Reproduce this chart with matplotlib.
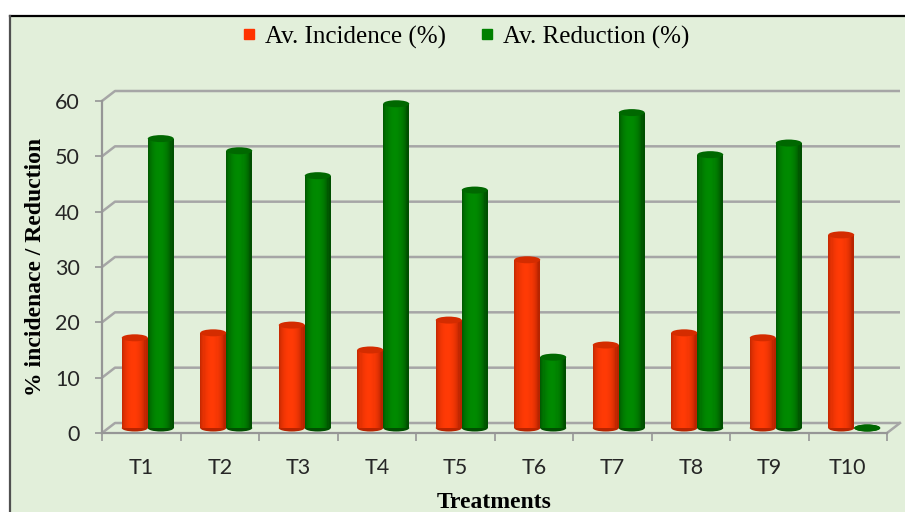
import numpy as np
import matplotlib
matplotlib.use('Agg')
import matplotlib.pyplot as plt
from matplotlib.patches import Ellipse, Rectangle
from matplotlib.lines import Line2D

treatments = ['T1', 'T2', 'T3', 'T4', 'T5', 'T6', 'T7', 'T8', 'T9', 'T10']
incidence = [16.3, 17.2, 18.6, 14.1, 19.5, 30.4, 15.0, 17.2, 16.3, 34.9]
reduction = [52.3, 50.1, 45.6, 58.6, 43.0, 12.8, 57.0, 49.4, 51.5, 0.0]
yticks = [0, 10, 20, 30, 40, 50, 60]

W, H = 905, 512
fig = plt.figure(figsize=(W / 100, H / 100), dpi=100)
fig.patch.set_facecolor('white')

# chart area background with its border
fig.patches.append(Rectangle((10 / W, 0), 1, (H - 16) / H, transform=fig.transFigure,
                             facecolor='#E2EFDA', edgecolor='none', zorder=-5))
fig.lines.append(Line2D([10 / W, 1], [(H - 16) / H] * 2, transform=fig.transFigure,
                        color='black', lw=1.6, zorder=-4))
fig.lines.append(Line2D([10 / W] * 2, [0, (H - 16) / H], transform=fig.transFigure,
                        color='#505050', lw=1.6, zorder=-4))

# front plane of the 3D box
left, right, bottom, top = 102, 887, 433, 101
ax = fig.add_axes([left / W, (H - bottom) / H, (right - left) / W, (bottom - top) / H])
ax.set_facecolor('none')
x0, x1 = -0.5, len(treatments) - 0.5
ax.set_xlim(x0, x1)
ax.set_ylim(0, 60)

# depth offset expressed in data units
px_x = (x1 - x0) / (right - left)
px_y = 60 / (bottom - top)
DX, DY = 13 * px_x, 10 * px_y

grid_c = '#A6A6A6'
for v in yticks:
    ax.plot([x0, x0 + DX, x1 + DX], [v, v + DY, v + DY], color=grid_c, lw=1.8,
            clip_on=False, zorder=1, solid_capstyle='butt')
ax.plot([x1, x1 + DX], [0, DY], color=grid_c, lw=1.8, clip_on=False, zorder=1)

for s in ['top', 'right']:
    ax.spines[s].set_visible(False)
for s in ['left', 'bottom']:
    ax.spines[s].set_color('#969696')
    ax.spines[s].set_linewidth(1.6)

ax.set_yticks(yticks)
ax.set_xticks(np.arange(len(treatments)))
ax.set_xticklabels(treatments)
ax.set_xticks(np.arange(len(treatments) + 1) - 0.5, minor=True)
ax.tick_params(axis='x', which='major', length=0, pad=18)
ax.tick_params(axis='x', which='minor', length=6, width=1.2, color='#969696')
ax.tick_params(axis='y', length=5, width=1.2, color='#969696', pad=11)
for lab in ax.get_xticklabels() + ax.get_yticklabels():
    lab.set_fontfamily('Lato')
    lab.set_fontsize(15.5)
    lab.set_color('#262626')


def cylinder(xc, val, w, dark, light, cap, n=24):
    base = DY / 2
    eh = 7 * px_y
    ax.add_patch(Ellipse((xc, base), w, eh, facecolor=dark, edgecolor='none',
                         zorder=3, clip_on=False))
    t = (np.arange(n) + 0.5) / n
    shade = np.sin(np.pi * np.clip(t * 1.1, 0, 1)) ** 0.6
    dark = np.array(matplotlib.colors.to_rgb(dark))
    light = np.array(matplotlib.colors.to_rgb(light))
    cols = [dark + (light - dark) * s for s in shade]
    xs = xc - w / 2 + t * w
    if val > 0:
        ax.bar(xs, val, bottom=base, width=w / n * 1.05, color=cols,
               edgecolor='none', zorder=4, clip_on=False)
    ax.add_patch(Ellipse((xc, base + val), w, eh, facecolor=cap, edgecolor='none',
                         zorder=5, clip_on=False))


bw = 26 * px_x
for i in range(len(treatments)):
    cylinder(i - bw / 2 + DX / 2, incidence[i], bw, '#B82400', '#FF3A05', '#D42C00')
    cylinder(i + bw / 2 + DX / 2, reduction[i], bw, '#004F00', '#008A00', '#006800')

ax.set_ylabel('% incidenace / Reduction', fontfamily='Liberation Serif',
              fontweight='bold', fontsize=17)
ax.yaxis.set_label_coords(-56 / (right - left), 0.5)
fig.text(494 / W, 1 - 502 / H, 'Treatments', fontfamily='Liberation Serif',
         fontweight='bold', fontsize=17, ha='center', va='center')

handles = [Line2D([], [], marker='s', ls='none', color='#FF3300', markersize=6.5),
           Line2D([], [], marker='s', ls='none', color='#008000', markersize=6.5)]
fig.legend(handles, ['Av. Incidence (%)', 'Av. Reduction (%)'], loc='center',
           bbox_to_anchor=(466 / W, 1 - 37 / H), ncol=2, frameon=False,
           prop={'family': 'Liberation Serif', 'size': 18},
           handlelength=0.5, handletextpad=0.4, columnspacing=1.4)

fig.savefig('out.png', dpi=100)
